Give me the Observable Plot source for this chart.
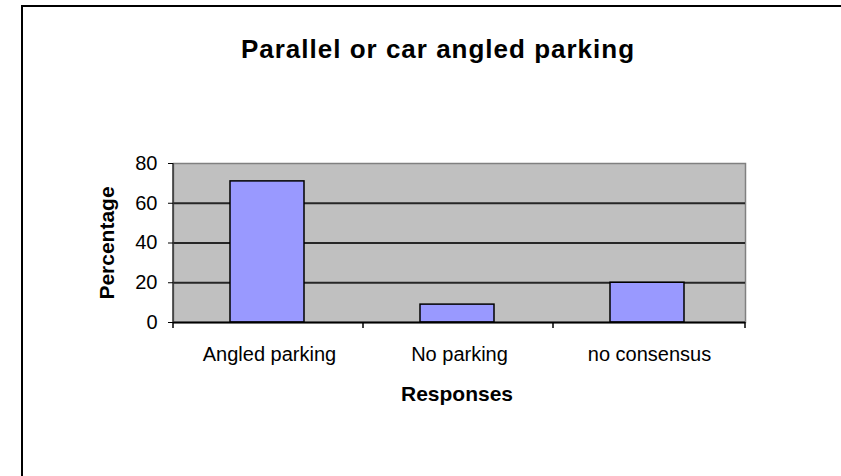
<!DOCTYPE html>
<html>
<head>
<meta charset="utf-8">
<script src="https://cdn.jsdelivr.net/npm/d3@7"></script>
<script src="https://cdn.jsdelivr.net/npm/@observablehq/plot@0.6"></script>
<style>
  html, body { margin: 0; padding: 0; background: #fff; overflow: hidden; width: 841px; height: 476px; }
  #page { position: relative; width: 841px; height: 476px; overflow: hidden; font-family: 'Liberation Sans', Arial, sans-serif; }
  #vline { position: absolute; left: 21px; top: 5px; width: 2px; height: 471px; background: #000; }
  #hline { position: absolute; left: 21px; top: 5px; width: 820px; height: 2px; background: #000; }
  #chart { position: absolute; left: 0; top: 0; }
  .title { position: absolute; left: 438px; top: 36px; transform: translateX(-50%); white-space: nowrap; font-weight: bold; font-size: 26px; line-height: 26px; letter-spacing: 1px; color: #000; }
  .xtitle { position: absolute; left: 457px; top: 383px; transform: translateX(-50%); white-space: nowrap; font-weight: bold; font-size: 21px; line-height: 21px; color: #000; }
  .ytitle { position: absolute; left: 106px; top: 243px; transform: translate(-50%, -50%) rotate(-90deg); white-space: nowrap; font-weight: bold; font-size: 21px; line-height: 21px; color: #000; }
</style>
</head>
<body>
<div id="page">
  <div id="vline"></div>
  <div id="hline"></div>
  <div id="chart"></div>
  <div class="title">Parallel or car angled parking</div>
  <div class="xtitle">Responses</div>
  <div class="ytitle">Percentage</div>
</div>
<script>
const categories = ["Angled parking", "No parking", "no consensus"];
const percentages = [71, 9, 20];
const yTicks = [0, 20, 40, 60, 80];
const gridValues = [20, 40, 60];

const data = categories.map((c, i) => ({response: c, pct: percentages[i]}));

function axisLines(...args) {
  const scales = args.find(a => a && typeof a.x === "function");
  const dims = args.find(a => a && a.marginBottom !== undefined && a.width !== undefined);
  const g = d3.create("svg:g");
  const left = dims.marginLeft, right = dims.width - dims.marginRight;
  const top = dims.marginTop, bottom = dims.height - dims.marginBottom;
  g.append("line").attr("x1", left).attr("x2", left).attr("y1", top).attr("y2", bottom)
    .attr("stroke", "#333").attr("stroke-width", 1.5);
  const xs = categories.map(c => scales.x(c));
  const offset = xs[0] - left;
  const bounds = xs.map(v => v - offset).concat([right]);
  for (const b of bounds) {
    g.append("line").attr("x1", b).attr("x2", b).attr("y1", bottom).attr("y2", bottom + 6)
      .attr("stroke", "#000").attr("stroke-width", 1.5);
  }
  return g.node();
}

const chart = Plot.plot({
  width: 841,
  height: 476,
  marginLeft: 173,
  marginRight: 96,
  marginTop: 163,
  marginBottom: 154,
  style: {fontFamily: "'Liberation Sans', Arial, sans-serif", fontSize: "20px", color: "#000", background: "transparent"},
  x: {domain: categories, padding: 0, label: null},
  y: {domain: [0, 80], label: null},
  marks: [
    Plot.frame({fill: "#c0c0c0", stroke: "#808080", strokeWidth: 1.5}),
    Plot.ruleY(gridValues, {stroke: "#262626", strokeWidth: 2}),
    Plot.barY(data, {x: "response", y: "pct", fill: "#9999ff", stroke: "#000", strokeWidth: 1.5, insetLeft: 56, insetRight: 60}),
    Plot.ruleY([0], {stroke: "#000", strokeWidth: 2}),
    axisLines,
    Plot.axisY({ticks: yTicks, tickSize: 5, tickPadding: 11, label: null, fontSize: 20}),
    Plot.axisX({tickSize: 0, tickPadding: 24, label: null, fontSize: 20})
  ]
});
document.getElementById("chart").appendChild(chart);
</script>
</body>
</html>
